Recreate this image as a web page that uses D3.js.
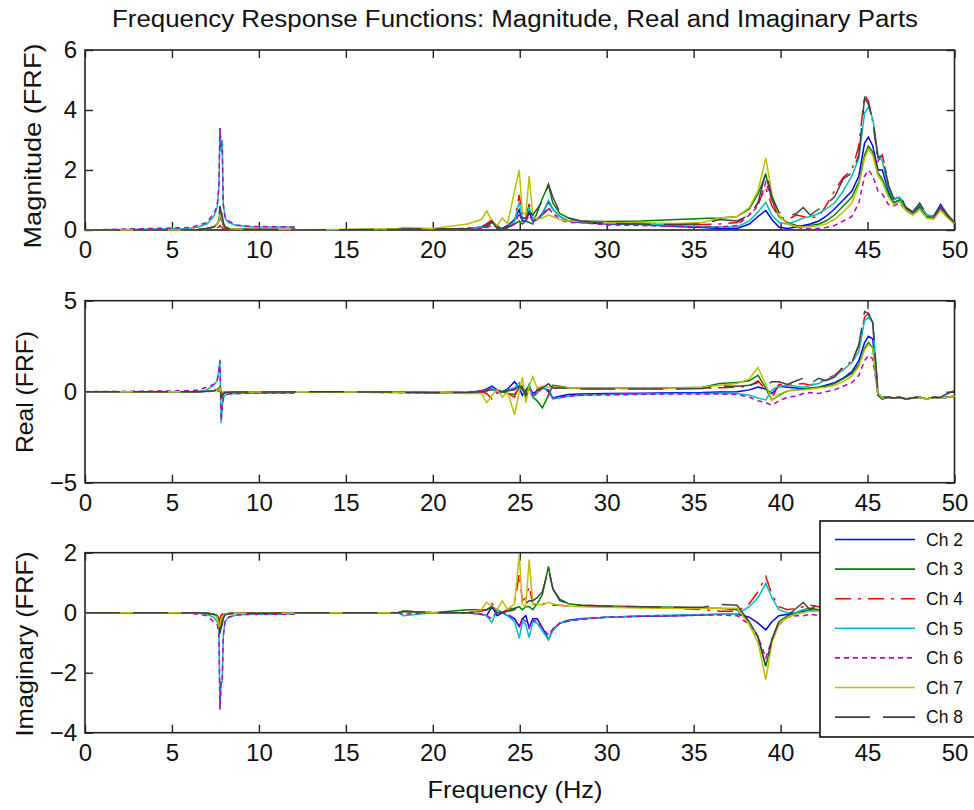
<!DOCTYPE html>
<html><head><meta charset="utf-8">
<script src="https://cdn.jsdelivr.net/npm/d3@7"></script>
<style>
body{margin:0;background:#fff}
text{font-family:Arial,"Liberation Sans",Helvetica,sans-serif;fill:#111}
</style>
</head><body>
<svg id="chart" width="974" height="810"></svg>
<script>
// ---------------- DATA ----------------
const freq = [0,6.0,6.5,7.0,7.4,7.6,7.7,7.76,7.83,7.89,7.95,8.05,8.25,8.7,9.5,12.0,12.1,
  18.0,18.3,20.0,22.0,22.8,23.1,23.4,23.7,24.0,24.3,24.7,24.97,25.15,25.35,25.54,25.75,26.0,26.3,26.65,26.9,27.3,27.8,28.5,
  30,32,34,35.5,36.5,37.5,38.2,38.7,39.15,39.5,39.9,40.4,40.9,41.3,41.7,42.2,42.6,43.1,43.6,44.1,
  44.5,44.83,45.05,45.3,45.6,45.85,46.2,46.5,46.85,47.2,47.6,48.0,48.4,48.8,49.2,49.6,50];

const channels = ["Ch 2","Ch 3","Ch 4","Ch 5","Ch 6","Ch 7","Ch 8"];
const xTicks = [0,5,10,15,20,25,30,35,40,45,50];
const magTicks = [0,2,4,6];
const realTicks = [-5,0,5];
const imagTicks = [-4,-2,0,2];

// Magnitude
const magCh2 = [0,0,0.02,0.05,0.1,0.2,0.3,0.45,0.35,0.3,0.15,0.08,0.05,0.03,0.02,0.02,0,
  0.02,0.03,0.03,0.05,0.1,0.2,0.3,0.1,0.05,0.15,0.35,0.67,0.3,0.3,0.6,0.3,0.35,0.55,0.95,0.7,0.45,0.3,0.25,
  0.2,0.18,0.12,0.08,0.05,0.05,0.2,0.45,0.65,0.35,0.1,0.05,0.1,0.15,0.2,0.3,0.45,0.7,1.0,1.3,
  1.8,2.9,3.1,2.8,2.0,2.0,1.3,0.9,1.0,0.7,0.55,0.8,0.45,0.45,0.85,0.5,0.25];
const magCh3 = [0,0,0.02,0.05,0.1,0.2,0.35,0.6,0.5,0.4,0.2,0.1,0.05,0.03,0.02,0.02,0,
  0.02,0.03,0.03,0.05,0.08,0.1,0.25,0.15,0.02,0.08,0.2,0.3,0.2,0.3,0.25,0.2,0.58,1.05,1.5,0.9,0.55,0.4,0.3,
  0.28,0.3,0.35,0.38,0.4,0.45,0.7,1.2,1.85,1.0,0.45,0.25,0.15,0.12,0.15,0.2,0.3,0.5,0.8,1.1,
  1.6,2.5,2.8,2.6,1.9,1.7,1.2,0.9,1.0,0.7,0.55,0.75,0.45,0.4,0.75,0.45,0.2];
const magCh4 = [0,0,0.01,0.02,0.05,0.08,0.1,0.15,0.1,0.08,0.05,0.03,0.02,0.01,0.01,0.01,0,
  0.02,0.03,0.03,0.05,0.1,0.2,0.35,0.1,0.02,0.1,0.3,1.17,0.5,0.4,0.87,0.4,0.35,0.5,0.7,0.55,0.4,0.3,0.3,
  0.25,0.22,0.2,0.18,0.2,0.25,0.5,0.9,1.4,0.8,0.45,0.35,0.5,0.45,0.4,0.45,0.8,1.3,1.75,2.0,
  2.8,4.5,4.3,3.6,2.3,2.5,1.5,1.0,1.15,0.75,0.6,0.85,0.5,0.45,0.8,0.5,0.25];
const magCh5 = [0,0.05,0.1,0.2,0.45,0.75,1.4,3.4,2.6,3.0,0.9,0.4,0.25,0.15,0.1,0.1,0,
  0.02,0.03,0.03,0.05,0.1,0.15,0.3,0.1,0.02,0.1,0.3,0.94,0.4,0.35,0.75,0.4,0.35,0.5,1.0,0.7,0.45,0.3,0.3,
  0.22,0.2,0.15,0.12,0.1,0.1,0.3,0.6,0.92,0.5,0.25,0.2,0.3,0.4,0.45,0.55,0.7,0.9,1.3,1.8,
  2.4,3.9,4.1,3.7,2.5,2.3,1.4,1.0,1.1,0.75,0.6,0.85,0.5,0.45,0.8,0.5,0.25];
const magCh6 = [0,0.08,0.15,0.25,0.55,0.8,1.5,3.4,2.8,2.8,0.85,0.45,0.3,0.17,0.12,0.1,0,
  0.02,0.03,0.03,0.05,0.05,0.08,0.15,0.1,0.02,0.05,0.2,0.55,0.3,0.3,0.5,0.3,0.35,0.5,0.75,0.55,0.35,0.25,0.25,
  0.17,0.15,0.12,0.1,0.1,0.15,0.5,0.8,1.6,1.0,0.5,0.2,0.1,0.05,0.05,0.05,0.08,0.15,0.3,0.45,
  0.9,1.8,2.0,1.8,1.3,1.2,0.85,0.8,0.9,0.65,0.5,0.7,0.4,0.4,0.7,0.45,0.2];
const magCh7 = [0,0,0.02,0.05,0.1,0.2,0.3,0.5,0.4,0.35,0.2,0.1,0.05,0.03,0.02,0.02,0,
  0.05,0.08,0.05,0.2,0.35,0.64,0.3,0.15,0.4,0.2,1.3,2.0,0.6,0.5,1.8,0.5,0.35,0.4,0.5,0.45,0.35,0.3,0.28,
  0.25,0.24,0.22,0.25,0.4,0.45,0.75,1.3,2.4,1.2,0.5,0.2,0.12,0.1,0.12,0.15,0.2,0.35,0.6,0.9,
  1.5,2.4,2.7,2.5,1.8,1.6,1.1,0.85,0.95,0.65,0.5,0.7,0.4,0.35,0.65,0.4,0.2];
const magCh8 = [0,0,0.02,0.05,0.1,0.2,0.4,0.8,0.6,0.5,0.25,0.1,0.05,0.03,0.02,0.02,0,
  0.02,0.03,0.03,0.05,0.1,0.15,0.3,0.05,0.02,0.1,0.2,0.5,0.4,0.4,0.6,0.5,0.7,0.95,1.53,1.1,0.6,0.4,0.3,
  0.22,0.2,0.18,0.2,0.35,0.3,0.5,0.9,1.95,1.1,0.6,0.45,0.55,0.75,0.5,0.7,0.85,1.1,1.7,1.9,
  2.5,4.4,4.2,3.7,2.4,2.5,1.5,1.05,1.2,0.75,0.6,0.9,0.5,0.45,0.8,0.5,0.25];

// Real part
const reCh2 = [0,0,0,0.02,0.05,0.1,0.15,0.3,-0.2,-0.2,-0.1,-0.05,-0.03,-0.02,-0.02,-0.02,0,
  -0.02,-0.03,-0.05,-0.05,0.05,0.15,0.3,0.1,0.0,0.15,0.55,0.2,-0.2,0.1,0.3,-0.1,0.05,0.2,0.1,-0.35,-0.25,-0.15,-0.12,
  -0.1,-0.08,-0.06,-0.05,-0.02,0.0,0.1,0.25,0.15,-0.1,0.3,0.25,0.2,0.15,0.2,0.25,0.35,0.5,0.75,1.1,
  1.7,2.7,3.05,2.9,-0.2,-0.4,-0.3,-0.35,-0.3,-0.4,-0.35,-0.3,-0.4,-0.3,-0.35,-0.3,-0.25];
const reCh3 = [0,0,0,0.02,0.05,0.1,0.2,0.3,-0.3,-0.3,-0.15,-0.05,-0.03,-0.02,-0.02,-0.02,0,
  -0.02,-0.03,-0.05,-0.05,0.02,0.05,0.1,0.05,0.0,-0.1,-0.15,0.2,0.3,-0.1,0.4,-0.3,-0.5,-0.88,-0.2,0.35,0.3,0.22,0.2,
  0.2,0.2,0.22,0.25,0.45,0.5,0.6,0.9,0.2,-0.45,-0.2,0.05,0.1,0.15,0.2,0.25,0.3,0.45,0.7,1.0,
  1.5,2.4,2.7,2.4,-0.2,-0.4,-0.3,-0.35,-0.3,-0.4,-0.35,-0.3,-0.4,-0.3,-0.35,-0.3,-0.25];
const reCh4 = [0,0,0,0.01,0.02,0.03,0.05,0.1,-0.05,-0.05,-0.03,-0.02,-0.01,-0.01,-0.01,-0.01,0,
  -0.02,-0.03,-0.05,-0.05,0.0,-0.1,-0.4,-0.1,0.0,-0.1,-0.3,0.4,0.3,-0.3,0.3,-0.4,0.1,0.3,-0.2,0.2,0.25,0.2,0.18,
  0.18,0.18,0.18,0.2,0.22,0.25,0.3,0.6,0.1,-0.35,0.4,0.35,0.4,0.45,0.35,0.5,0.7,0.9,1.3,1.7,
  2.5,4.1,4.3,3.8,-0.1,-0.3,-0.3,-0.35,-0.3,-0.4,-0.3,-0.3,-0.4,-0.3,-0.35,-0.3,-0.25];
const reCh5 = [0,0,0.03,0.1,0.35,0.6,1.2,1.76,-1.72,-0.8,-0.35,-0.2,-0.12,-0.1,-0.08,-0.07,0,
  -0.05,-0.06,-0.08,-0.08,0.05,0.1,0.25,-0.1,0.0,0.1,0.2,0.5,0.1,-0.3,0.3,-0.3,-0.1,0.3,0.0,-0.4,-0.35,-0.25,-0.2,
  -0.15,-0.12,-0.1,-0.1,-0.08,-0.1,-0.2,-0.35,-0.45,0.1,0.3,0.35,0.3,0.25,0.35,0.45,0.65,0.85,1.2,1.6,
  2.2,3.9,4.1,3.8,-0.1,-0.3,-0.3,-0.35,-0.3,-0.4,-0.35,-0.3,-0.4,-0.3,-0.35,-0.3,-0.25];
const reCh6 = [0,0.05,0.1,0.25,0.4,0.6,1.2,1.7,-1.6,-0.8,-0.35,-0.2,-0.12,-0.1,-0.08,-0.07,0,
  -0.05,-0.06,-0.08,-0.08,0.05,0.1,0.2,-0.05,0.0,0.05,0.15,0.35,0.1,-0.2,0.2,-0.2,-0.1,0.2,0.0,-0.35,-0.3,-0.25,-0.2,
  -0.18,-0.15,-0.12,-0.12,-0.12,-0.15,-0.3,-0.5,-0.6,-0.75,-0.5,-0.3,-0.25,-0.1,-0.05,-0.1,0.0,0.1,0.3,0.5,
  0.9,1.7,2.0,1.8,-0.1,-0.35,-0.3,-0.35,-0.3,-0.4,-0.35,-0.3,-0.4,-0.3,-0.35,-0.3,-0.25];
const reCh7 = [0,0,0,0.02,0.05,0.08,0.1,0.2,-0.1,-0.1,-0.05,-0.03,-0.02,-0.02,-0.02,-0.02,0,
  -0.03,-0.05,-0.05,-0.1,-0.1,-0.6,-0.2,0.1,-0.3,0.0,-1.27,0.0,0.8,-0.6,0.3,0.82,0.2,0.3,0.25,0.25,0.25,0.22,0.2,
  0.2,0.2,0.2,0.25,0.35,0.45,0.7,1.33,0.4,-0.5,-0.15,0.05,0.1,0.1,0.15,0.2,0.25,0.35,0.55,0.85,
  1.4,2.3,2.6,2.4,-0.1,-0.35,-0.3,-0.35,-0.3,-0.4,-0.35,-0.3,-0.4,-0.3,-0.35,-0.3,-0.25];
const reCh8 = [0,0,0,0.02,0.05,0.1,0.2,0.35,-0.3,-0.2,-0.1,-0.05,-0.03,-0.02,-0.02,-0.02,0,
  -0.02,-0.03,-0.05,-0.05,0.0,0.05,0.1,-0.05,0.0,0.05,0.1,0.3,0.2,-0.2,0.1,-0.1,0.1,0.2,0.44,0.2,0.2,0.18,0.15,
  0.15,0.15,0.15,0.18,0.3,0.3,0.35,0.5,0.3,0.55,0.55,0.4,0.6,0.74,0.45,0.74,0.6,0.8,1.4,1.6,
  2.6,4.4,4.3,3.8,-0.1,-0.3,-0.3,-0.35,-0.3,-0.4,-0.35,-0.3,-0.4,-0.3,-0.3,-0.1,0.05];

// Imaginary part
const imCh2 = [0,0,0,-0.02,-0.05,-0.1,-0.2,-0.4,-0.3,-0.25,-0.1,-0.05,-0.03,-0.02,-0.02,-0.02,0,
  0.0,0.05,0.0,0.0,-0.05,-0.1,0.2,-0.1,0.0,-0.1,-0.2,-0.46,-0.2,-0.1,-0.5,-0.2,-0.2,-0.5,-0.9,-0.55,-0.35,-0.25,-0.2,
  -0.15,-0.12,-0.1,-0.08,-0.05,-0.05,-0.15,-0.35,-0.57,-0.3,-0.1,-0.05,0.0,0.05,0.1,0.1,0.05,0.0,-0.2,-0.5,
  -0.9,-1.0,-0.5,0.3,0.8,0.6,0.3,0.2,0.3,0.2,0.1,0.2,0.1,0.1,0.2,0.1,0.0];
const imCh3 = [0,0,0,-0.02,-0.05,-0.1,-0.2,-0.5,-0.4,-0.3,-0.1,-0.05,-0.03,-0.02,-0.02,-0.02,0,
  0.0,0.05,0.0,0.1,0.1,0.1,0.2,0.1,0.0,0.1,0.15,0.2,0.1,0.2,0.2,0.1,0.3,0.6,1.54,0.8,0.45,0.3,0.25,
  0.22,0.2,0.18,0.15,0.15,0.1,-0.3,-0.8,-1.79,-0.9,-0.3,-0.1,0.0,0.1,0.15,0.1,0.0,-0.2,-0.4,-0.6,
  -0.8,-0.9,-0.4,0.3,0.7,0.5,0.3,0.2,0.3,0.2,0.1,0.2,0.1,0.1,0.2,0.1,0.0];
const imCh4 = [0,0,0,-0.01,-0.05,-0.15,-0.3,-0.2,-0.08,-0.05,-0.03,-0.02,-0.01,-0.01,-0.01,-0.01,0,
  0.0,0.05,0.0,0.0,0.05,0.1,0.3,0.1,0.0,0.1,0.3,1.3,0.4,0.5,0.88,0.3,0.25,0.3,0.3,0.25,0.25,0.22,0.22,
  0.2,0.18,0.15,0.1,0.05,0.05,0.3,0.7,1.21,0.6,0.2,0.1,0.15,0.2,0.25,0.2,0.1,-0.3,-0.6,-1.0,
  -1.2,-1.5,-0.7,0.5,1.0,0.8,0.4,0.3,0.4,0.25,0.15,0.25,0.1,0.1,0.2,0.1,0.0];
const imCh5 = [0,0,-0.02,-0.05,-0.15,-0.3,-0.6,-3.2,-2.3,-2.3,-0.8,-0.3,-0.15,-0.08,-0.05,-0.05,0,
  0.0,-0.1,0.0,0.0,-0.05,-0.1,-0.33,0.1,0.0,-0.1,-0.3,-0.85,-0.3,-0.4,-0.83,-0.3,-0.35,-0.6,-0.9,-0.6,-0.35,-0.28,-0.22,
  -0.15,-0.1,-0.08,-0.06,-0.05,-0.05,0.2,0.5,0.98,0.5,0.1,0.0,0.0,0.1,0.1,0.05,0.0,-0.3,-0.6,-0.9,
  -1.2,-1.3,-0.6,0.5,1.0,0.8,0.4,0.3,0.4,0.25,0.15,0.25,0.1,0.1,0.2,0.1,0.0];
const imCh6 = [0,-0.02,-0.05,-0.1,-0.3,-0.4,-0.7,-3.23,-2.29,-2.3,-0.8,-0.3,-0.15,-0.08,-0.05,-0.05,0,
  0.0,-0.05,0.0,0.0,-0.05,-0.1,-0.2,0.05,0.0,-0.05,-0.2,-0.5,-0.2,-0.3,-0.5,-0.25,-0.3,-0.5,-0.75,-0.55,-0.35,-0.28,-0.22,
  -0.15,-0.12,-0.1,-0.08,-0.08,-0.1,-0.4,-0.8,-1.5,-0.9,-0.4,-0.15,-0.1,-0.1,-0.05,-0.1,-0.15,-0.2,-0.3,-0.4,
  -0.5,-0.6,-0.3,0.2,0.6,0.5,0.3,0.2,0.3,0.2,0.1,0.2,0.1,0.1,0.2,0.1,0.0];
const imCh7 = [0,0,0,-0.02,-0.05,-0.15,-0.5,-0.4,-0.2,-0.15,-0.1,-0.05,-0.03,-0.02,-0.02,-0.02,0,
  0.0,0.05,0.0,0.0,0.1,0.35,0.2,0.1,0.4,0.1,0.3,1.93,0.3,0.2,1.77,0.3,0.3,0.25,0.35,0.3,0.25,0.22,0.2,
  0.18,0.16,0.15,0.14,0.15,0.15,-0.4,-1.0,-2.23,-1.0,-0.4,-0.15,-0.05,0.0,0.05,0.05,0.0,-0.15,-0.3,-0.5,
  -0.7,-0.9,-0.4,0.3,0.7,0.5,0.3,0.2,0.3,0.2,0.1,0.2,0.1,0.1,0.2,0.1,0.0];
const imCh8 = [0,0,0,-0.02,-0.05,-0.1,-0.3,-0.7,-0.5,-0.4,-0.2,-0.08,-0.04,-0.02,-0.02,-0.02,0,
  0.0,0.05,0.0,0.0,0.05,0.1,0.2,0.0,0.0,0.05,0.1,0.3,0.3,0.3,0.4,0.4,0.5,0.7,1.45,0.8,0.4,0.3,0.25,
  0.22,0.2,0.18,0.18,0.28,0.25,-0.3,-0.8,-1.8,-0.9,-0.3,-0.1,0.15,0.34,0.1,0.3,0.1,-0.3,-0.7,-1.0,
  -1.3,-1.5,-0.6,0.5,1.0,0.8,0.4,0.3,0.4,0.25,0.15,0.25,0.1,0.1,0.2,0.1,0.0];

// ---------------- STYLE ----------------
const colors = ["#0000ff","#008000","#ff0000","#00bfbf","#bf00bf","#bfbf00","#404040"];
const dashes = [null,null,"16,7,3,7",null,"5,4",null,"35,13"];

// ---------------- DRAW ----------------
const svg = d3.select("#chart");
svg.append("rect").attr("width",974).attr("height",810).attr("fill","#fff");

const x = d3.scaleLinear().domain([0,50]).range([85,954.5]);

const panels = [
  {top:50, bottom:230, domain:[0,6], ticks:magTicks, label:"Magnitude (FRF)", lx:40.5, ly:146, llen:205,
   series:[magCh2,magCh3,magCh4,magCh5,magCh6,magCh7,magCh8]},
  {top:300.7, bottom:482.7, domain:[-5,5], ticks:realTicks, label:"Real (FRF)", lx:32.5, ly:392, llen:122,
   series:[reCh2,reCh3,reCh4,reCh5,reCh6,reCh7,reCh8]},
  {top:552.7, bottom:732.7, domain:[-4,2], ticks:imagTicks, label:"Imaginary (FRF)", lx:32.5, ly:644, llen:185,
   series:[imCh2,imCh3,imCh4,imCh5,imCh6,imCh7,imCh8]}
];

function styleAxis(g){
  g.attr("font-family",null).attr("font-size",null);
  g.select(".domain").remove();
  g.selectAll(".tick line").attr("stroke","#222").attr("stroke-width",1.4);
  g.selectAll(".tick text").attr("font-size",24).attr("fill","#111");
}

panels.forEach((p,pi)=>{
  const y = d3.scaleLinear().domain(p.domain).range([p.bottom,p.top]);
  const g = svg.append("g");

  g.append("g").attr("transform",`translate(0,${p.bottom})`)
    .call(d3.axisBottom(x).tickValues(xTicks).tickSizeInner(-8).tickSizeOuter(0).tickPadding(11))
    .call(styleAxis);
  g.append("g").attr("transform",`translate(0,${p.top})`)
    .call(d3.axisTop(x).tickValues(xTicks).tickSizeInner(-8).tickSizeOuter(0).tickFormat(""))
    .call(styleAxis);
  g.append("g").attr("transform",`translate(85,0)`)
    .call(d3.axisLeft(y).tickValues(p.ticks).tickSizeInner(-8).tickSizeOuter(0).tickPadding(8).tickFormat(d3.format("d")))
    .call(styleAxis);
  g.append("g").attr("transform",`translate(954.5,0)`)
    .call(d3.axisRight(y).tickValues(p.ticks).tickSizeInner(-8).tickSizeOuter(0).tickFormat(""))
    .call(styleAxis);

  g.append("rect").attr("x",85).attr("y",p.top).attr("width",954.5-85).attr("height",p.bottom-p.top)
    .attr("fill","none").attr("stroke","#222").attr("stroke-width",1.6);

  const clipId = "clip"+pi;
  svg.append("clipPath").attr("id",clipId).append("rect")
    .attr("x",83).attr("y",p.top-2).attr("width",954.5-83+2).attr("height",p.bottom-p.top+4);

  const line = d3.line().x((d,i)=>x(freq[i])).y(d=>y(d));
  const lg = g.append("g").attr("clip-path",`url(#${clipId})`);
  p.series.forEach((s,si)=>{
    lg.append("path").datum(s).attr("d",line)
      .attr("fill","none").attr("stroke",colors[si]).attr("stroke-width",1.5)
      .attr("stroke-dasharray",dashes[si]);
  });

  svg.append("text").attr("transform",`translate(${p.lx},${p.ly}) rotate(-90)`)
    .attr("text-anchor","middle").attr("font-size",24)
    .attr("textLength",p.llen).attr("lengthAdjust","spacingAndGlyphs")
    .text(p.label);
});

// Title
svg.append("text").attr("x",515).attr("y",27).attr("text-anchor","middle").attr("font-size",23)
  .attr("textLength",806).attr("lengthAdjust","spacingAndGlyphs")
  .text("Frequency Response Functions: Magnitude, Real and Imaginary Parts");

// X label
svg.append("text").attr("x",515).attr("y",798).attr("text-anchor","middle").attr("font-size",24)
  .attr("textLength",175).attr("lengthAdjust","spacingAndGlyphs")
  .text("Frequency (Hz)");

// Legend
const leg = svg.append("g");
leg.append("rect").attr("x",820).attr("y",521).attr("width",170).attr("height",216)
  .attr("fill","#fff").attr("stroke","#111").attr("stroke-width",1.6);
channels.forEach((c,i)=>{
  const yy = 539.5 + i*29.6;
  leg.append("line").attr("x1",835).attr("x2",915).attr("y1",yy).attr("y2",yy)
    .attr("stroke",colors[i]).attr("stroke-width",1.6).attr("stroke-dasharray",dashes[i]);
  leg.append("text").attr("x",926).attr("y",yy).attr("dy","0.36em").attr("font-size",17.5).text(c);
});
</script>
</body></html>
